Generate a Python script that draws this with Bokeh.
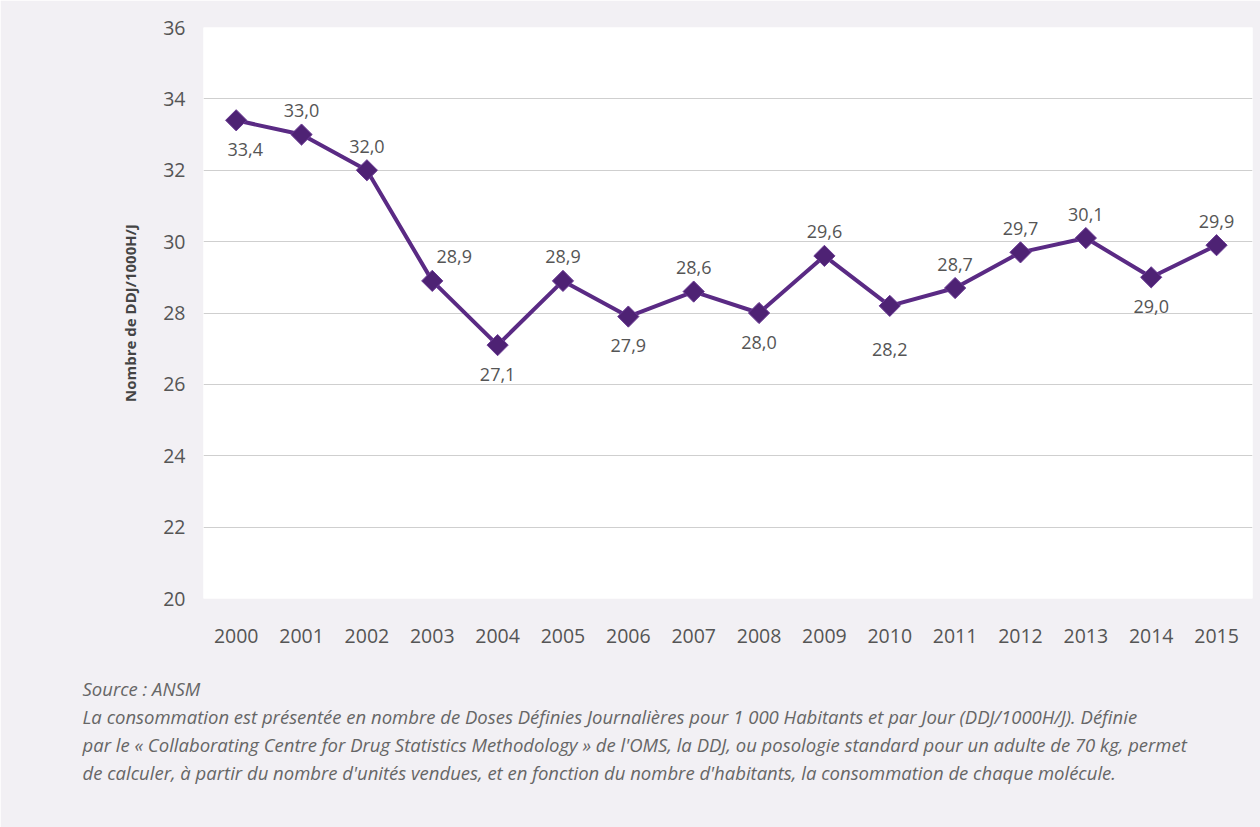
import math
from bokeh.plotting import figure
from bokeh.models import ColumnDataSource, Title, FixedTicker, Range1d
from bokeh.core.properties import value
from bokeh.embed import file_html
from bokeh.resources import INLINE

years = [2000, 2001, 2002, 2003, 2004, 2005, 2006, 2007, 2008, 2009, 2010, 2011, 2012, 2013, 2014, 2015]
consumption = [33.4, 33.0, 32.0, 28.9, 27.1, 28.9, 27.9, 28.6, 28.0, 29.6, 28.2, 28.7, 29.7, 30.1, 29.0, 29.9]
y_ticks = [20, 22, 24, 26, 28, 30, 32, 34, 36]
label_side = ["below", "above", "above", "above", "below", "above", "below", "above",
              "below", "above", "below", "above", "above", "above", "below", "above"]

FONT = "Open Sans"
TXT = "#555555"
PURPLE = "#5a2a84"

labels = [f"{v:.1f}".replace(".", ",") for v in consumption]
xoff = []
yoff = []
for i, s in enumerate(label_side):
    if s == "above":
        yoff.append(-24)
        xoff.append(22 if years[i] == 2003 else 0)
    else:
        yoff.append(44 if years[i] == 2010 else 29)
        xoff.append(9 if years[i] == 2000 else 0)

src = ColumnDataSource(dict(x=years, y=consumption, lab=labels, xo=xoff, yo=yoff))

p = figure(width=1260, height=827, output_backend="svg", toolbar_location=None,
           x_range=Range1d(1999.5, 2015.55), y_range=Range1d(20, 36),
           min_border_left=203, min_border_right=8, min_border_top=27, min_border_bottom=229)
p.background_fill_color = "white"
p.border_fill_color = "#f2f0f4"
p.outline_line_color = None

p.xgrid.grid_line_color = None
p.ygrid.grid_line_color = "#cfcfcf"
p.ygrid.grid_line_width = 1
p.ygrid.ticker = FixedTicker(ticks=y_ticks)

p.yaxis.ticker = FixedTicker(ticks=y_ticks)
p.xaxis.ticker = FixedTicker(ticks=years)
for ax in (p.xaxis[0], p.yaxis[0]):
    ax.axis_line_color = None
    ax.major_tick_line_color = None
    ax.minor_tick_line_color = None
    ax.major_label_text_font = FONT
    ax.major_label_text_font_size = "19.5px"
    ax.major_label_text_color = TXT
p.xaxis.major_label_standoff = 24
p.yaxis.major_label_standoff = 12
p.yaxis.axis_label = "Nombre de DDJ/1000H/J"
p.yaxis.axis_label_text_font = FONT
p.yaxis.axis_label_text_font_style = "bold"
p.yaxis.axis_label_text_font_size = "15px"
p.yaxis.axis_label_text_color = "#444444"
p.yaxis.axis_label_standoff = 20

p.line("x", "y", source=src, line_color=PURPLE, line_width=4)
p.scatter("x", "y", source=src, marker="square", angle=math.pi / 4, size=15,
          fill_color="#4e2274", line_color="#6a3a94", line_width=1)
p.text("x", "y", text="lab", source=src, x_offset="xo", y_offset="yo",
       text_font=value(FONT), text_font_size="18px", text_color=TXT,
       text_align="center", text_baseline="middle")

notes = [
    "Source : ANSM",
    "La consommation est présentée en nombre de Doses Définies Journalières pour 1 000 Habitants et par Jour (DDJ/1000H/J). Définie",
    "par le « Collaborating Centre for Drug Statistics Methodology » de l'OMS, la DDJ, ou posologie standard pour un adulte de 70 kg, permet",
    "de calculer, à partir du nombre d'unités vendues, et en fonction du nombre d'habitants, la consommation de chaque molécule.",
]
# invisible spacer between the axis and the notes
p.add_layout(Title(text=" ", text_font_size="1px", standoff=25), "below")
for i, t in enumerate(notes):
    p.add_layout(Title(text=t, align="left", offset=-121, standoff=1,
                       text_font=FONT, text_font_style="italic", text_font_size="18.5px",
                       text_color="#666666"), "below")

open("out.html", "w").write(file_html(p, INLINE))
